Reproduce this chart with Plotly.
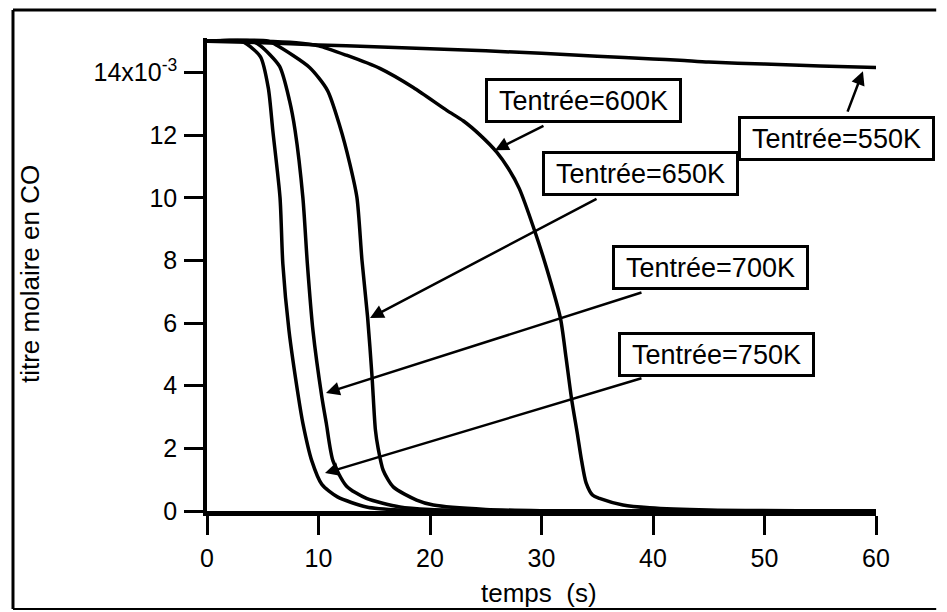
import plotly.graph_objects as go

# time (s) and CO molar fraction (in units of 1e-3)
t_550 = [0, 5, 10, 15, 20, 25, 30, 35, 40, 42.4, 45, 50, 55, 60.5]
v_550 = [15.0, 14.95, 14.88, 14.82, 14.76, 14.69, 14.61, 14.52, 14.43, 14.39, 14.33, 14.27, 14.21, 14.15]

t_600 = [0, 5, 8, 10, 12.5, 15.5, 18.5, 21.5, 23, 24.5, 26, 27, 28, 29.4, 30.5, 31.7, 32.2, 32.7, 33.2, 33.6, 34.0, 34.6, 35.2, 37.3, 39.7, 45, 60]
v_600 = [15.0, 15.0, 14.95, 14.85, 14.55, 14.13, 13.52, 12.79, 12.45, 12.0, 11.45, 10.95, 10.3, 8.93, 7.7, 6.15, 4.9, 3.57, 2.5, 1.6, 0.9, 0.5, 0.4, 0.19, 0.1, 0.03, 0.0]

t_650 = [0, 5.5, 6.3, 9.2, 10.8, 11.9, 12.8, 13.45, 13.9, 14.4, 14.8, 15.1, 15.35, 15.8, 16.7, 18.8, 20.3, 25, 30, 35, 60]
v_650 = [15.0, 15.0, 14.86, 14.16, 13.43, 12.3, 11.1, 10.0, 8.0, 6.2, 4.3, 2.6, 2.0, 1.3, 0.77, 0.35, 0.19, 0.05, 0.01, 0.0, 0.0]

t_700 = [0, 4, 4.8, 6.5, 7.4, 7.9, 8.6, 9.0, 9.5, 10.3, 10.7, 11.3, 12.5, 14.3, 17.3, 20, 25, 60]
v_700 = [15.0, 15.0, 14.85, 14.2, 13.1, 12.15, 10.0, 7.9, 5.77, 3.64, 2.8, 1.6, 0.8, 0.4, 0.13, 0.05, 0.01, 0.0]

t_750 = [0, 3, 3.6, 4.8, 5.5, 5.9, 6.55, 6.8, 7.35, 8.2, 8.6, 9.4, 10.3, 11.7, 14.3, 17.3, 25, 60]
v_750 = [15.0, 15.0, 14.9, 14.5, 13.5, 12.15, 10.0, 7.9, 5.77, 3.64, 2.8, 1.6, 0.85, 0.45, 0.13, 0.03, 0.0, 0.0]

x_ticks = [0, 10, 20, 30, 40, 50, 60]
x_ticktext = ["0", "10", "20", "30", "40", "50", "60"]
y_ticks = [0, 2, 4, 6, 8, 10, 12, 14]
y_ticktext = ["0", "2", "4", "6", "8", "10", "12", "14x10<sup>-3</sup>"]

labels = ["Tentrée=550K", "Tentrée=600K", "Tentrée=650K", "Tentrée=700K", "Tentrée=750K"]

FONT = "Liberation Sans, Arial, Helvetica, sans-serif"

fig = go.Figure()
for t, v in [(t_550, v_550), (t_600, v_600), (t_650, v_650), (t_700, v_700), (t_750, v_750)]:
    fig.add_trace(go.Scatter(x=t, y=v, mode="lines",
                             line=dict(color="black", width=3.5, shape="spline", smoothing=0.7),
                             showlegend=False, hoverinfo="skip"))

# label boxes (center) and arrows (tip, tail) in data coordinates
box_pos = [(56.45, 11.9), (33.81, 13.10), (38.92, 10.76), (45.2, 7.77), (45.7, 5.01)]
arrows = [((58.83, 14.04), (57.4, 12.70)),
          ((25.83, 11.52), (30.31, 12.32)),
          ((14.62, 6.16), (35.07, 9.99)),
          ((10.67, 3.77), (39.10, 6.99)),
          ((10.58, 1.21), (39.10, 4.25))]

annotations = []
for lab, (bx, by), ((tx, ty), (ax, ay)) in zip(labels, box_pos, arrows):
    annotations.append(dict(x=tx, y=ty, ax=ax, ay=ay, xref="x", yref="y", axref="x", ayref="y",
                            text="", showarrow=True, arrowhead=2, arrowsize=1.1, arrowwidth=2.5,
                            arrowcolor="black", standoff=0, startstandoff=0))
    annotations.append(dict(x=bx, y=by, xref="x", yref="y", text=lab, showarrow=False,
                            xanchor="center", yanchor="middle",
                            font=dict(family=FONT, size=27, color="black"),
                            bordercolor="black", borderwidth=3, borderpad=2,
                            bgcolor="white", width=187, height=35))

annotations.append(dict(x=0.496, y=-0.173, xref="paper", yref="paper", text="temps  (s)",
                        xanchor="center", yanchor="middle",
                        showarrow=False, font=dict(family=FONT, size=26, color="black")))
annotations.append(dict(x=-0.2646, y=0.501, xref="paper", yref="paper", text="titre molaire en CO",
                        xanchor="center", yanchor="middle",
                        textangle=-90, showarrow=False, font=dict(family=FONT, size=26, color="black")))

# outer frame (left, top, bottom edges)
frame = [
    dict(type="line", xref="paper", yref="paper", x0=-0.29, x1=-0.29, y0=-0.207, y1=1.059,
         line=dict(color="black", width=3), layer="below"),
    dict(type="line", xref="paper", yref="paper", x0=-0.29, x1=1.09, y0=1.059, y1=1.059,
         line=dict(color="black", width=3), layer="below"),
    dict(type="line", xref="paper", yref="paper", x0=-0.29, x1=1.09, y0=-0.207, y1=-0.207,
         line=dict(color="black", width=2), layer="below"),
]

fig.update_layout(
    width=947, height=612,
    margin=dict(l=207, r=71, t=38, b=101, autoexpand=False),
    paper_bgcolor="white", plot_bgcolor="white",
    font=dict(family=FONT, color="black"),
    annotations=annotations,
    shapes=frame,
)
fig.update_xaxes(range=[0, 60], tickvals=x_ticks, ticktext=x_ticktext, showgrid=False, zeroline=False,
                 showline=True, linecolor="black", linewidth=5, ticks="outside", ticklen=19, tickwidth=3,
                 tickcolor="black", ticklabelstandoff=2, automargin=False,
                 tickfont=dict(family=FONT, size=25, color="black"))
fig.update_yaxes(range=[0, 15.1], tickvals=y_ticks, ticktext=y_ticktext, showgrid=False, zeroline=False,
                 showline=True, linecolor="black", linewidth=3.5, ticks="outside", ticklen=19, tickwidth=3,
                 tickcolor="black", ticklabelstandoff=2, automargin=False,
                 tickfont=dict(family=FONT, size=25, color="black"))

fig.write_html("out.html", config={"displayModeBar": False},
               post_script="document.body.style.margin='0px';document.body.style.overflow='hidden';")
